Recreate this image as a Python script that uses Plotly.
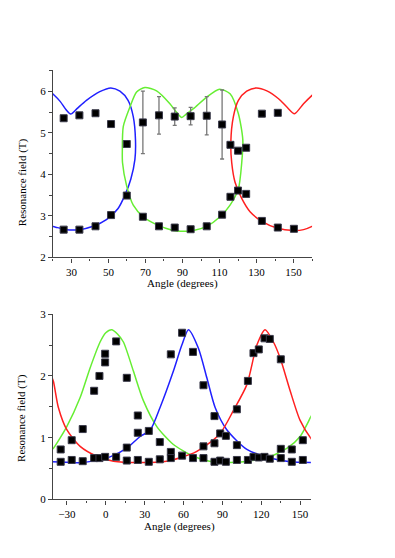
import plotly.graph_objects as go

# ---- top panel: measured points (degrees, tesla) ----
top_x = [25.8, 34.3, 43.0, 51.4, 59.9, 68.6, 77.3, 85.8, 94.4, 103.1, 111.4, 115.9, 120.0, 124.4, 132.9, 141.5]
top_hi = [5.35, 5.42, 5.47, 5.21, 4.73, 5.25, 5.42, 5.39, 5.40, 5.41, 5.20, 4.71, 4.57, 4.64, 5.46, 5.48]
top_hi_err = [0, 0, 0, 0, 0, 0.75, 0.45, 0.21, 0.21, 0.46, 0.83, 0, 0, 0, 0, 0]

top_lo_x = [25.8, 34.3, 43.0, 51.4, 59.9, 68.6, 77.3, 85.8, 94.4, 103.1, 111.4, 115.9, 120.0, 124.4, 132.9, 141.5, 150.2]
top_lo = [2.67, 2.67, 2.75, 3.02, 3.49, 2.98, 2.75, 2.72, 2.68, 2.75, 3.03, 3.46, 3.61, 3.53, 2.88, 2.72, 2.69]

# fitted curves, top panel
blue_top_x = [18, 20.6, 24, 27, 29.6, 33, 38.1, 45.3, 51.3, 56.2, 60.6, 63.4, 64.6, 64.3, 62.1, 58.9, 55.2, 48.9, 41.7, 34.5, 27.3, 21.5, 18]
blue_top_y = [6.0, 5.91, 5.75, 5.56, 5.45, 5.58, 5.78, 5.99, 6.08, 6.0, 5.78, 5.39, 4.83, 4.36, 3.89, 3.50, 3.18, 2.91, 2.75, 2.67, 2.67, 2.73, 2.77]

green_top_x = [57.5, 58, 61.6, 65.2, 69.7, 76, 83.2, 87, 89.6, 92, 95.9, 103.1, 110, 115.7, 120.2, 122.6, 122, 120.2, 115.7, 110.3, 103.1, 95.9, 89, 85, 76, 68.8, 63.4, 59.8, 57.6, 57.5]
green_top_y = [4.6, 5.15, 5.62, 5.98, 6.09, 6.01, 5.70, 5.48, 5.37, 5.45, 5.58, 5.86, 6.05, 5.94, 5.46, 4.83, 4.28, 3.65, 3.26, 2.98, 2.75, 2.65, 2.63, 2.65, 2.79, 2.98, 3.26, 3.73, 4.28, 4.6]

red_top_x = [162, 160, 155.4, 150, 141, 132.9, 126.5, 122, 118.4, 116.6, 116.1, 117.5, 120.2, 124.7, 129.8, 135.6, 141.9, 146.4, 150.5, 155.4, 160, 162]
red_top_y = [2.80, 2.75, 2.67, 2.65, 2.71, 2.87, 3.10, 3.42, 3.81, 4.28, 4.76, 5.39, 5.78, 6.0, 6.08, 6.01, 5.82, 5.62, 5.46, 5.70, 5.90, 5.98]

# ---- bottom panel: measured points ----
bot_x = [-34.8, -34.8, -26.3, -26.3, -17.8, -17.8, -9.0, -9.0, -4.9, -4.9, -0.5, -0.5, -0.5,
         8.0, 8.0, 16.2, 16.2, 16.2, 24.7, 24.7, 24.7, 33.2, 33.2, 41.7, 41.7,
         50.2, 50.2, 50.2, 58.9, 58.9, 67.3, 67.3, 75.4, 75.4, 75.4, 83.9, 83.9, 83.9,
         88.3, 88.3, 92.7, 92.7, 101.2, 101.2, 101.2, 109.7, 109.7, 114.0, 114.0,
         118.1, 118.1, 122.5, 122.5, 126.6, 126.6, 135.1, 135.1, 135.1, 143.6, 143.6, 152.1, 152.1]
bot_y = [0.81, 0.61, 0.96, 0.64, 1.14, 0.62, 1.76, 0.67, 2.00, 0.67, 2.22, 2.36, 0.69,
         2.56, 0.69, 1.97, 0.84, 0.63, 1.36, 1.08, 0.64, 1.11, 0.61, 0.93, 0.65,
         2.35, 0.77, 0.67, 2.70, 0.71, 2.39, 0.67, 1.85, 0.86, 0.67, 1.35, 0.91, 0.61,
         1.07, 0.63, 1.03, 0.61, 1.46, 0.88, 0.64, 1.92, 0.64, 2.37, 0.69,
         2.43, 0.68, 2.61, 0.69, 2.60, 0.66, 2.27, 0.82, 0.67, 0.81, 0.61, 0.96, 0.64]

# fitted curves, bottom panel
green_bot_x = [-42, -40.4, -30.1, -19.8, -12.1, -4.4, 0, 4.5, 9, 13.6, 21.3, 29, 39.4, 52.2, 67.6, 80, 95, 110, 125, 140, 150, 158.3, 160]
green_bot_y = [0.80, 0.83, 1.18, 1.65, 2.13, 2.55, 2.70, 2.75, 2.68, 2.55, 2.08, 1.60, 1.18, 0.89, 0.70, 0.62, 0.60, 0.62, 0.68, 0.83, 1.02, 1.34, 1.40]

blue_bot_x = [-42, -17.3, 3.3, 16.2, 26.5, 34.2, 41.9, 52.2, 58.7, 63.8, 71.5, 78, 84.4, 93.4, 108.9, 126.9, 142.3, 160]
blue_bot_y = [0.61, 0.60, 0.69, 0.83, 1.02, 1.12, 1.49, 2.08, 2.50, 2.75, 2.45, 1.97, 1.49, 1.13, 0.81, 0.67, 0.61, 0.60]

red_bot_x = [-42, -40.4, -36.6, -30.1, -19.8, -6.9, 5.9, 26.5, 47.1, 67.6, 72.8, 88.3, 98.5, 108.9, 116.6, 123, 129.4, 134.6, 142.3, 150, 158.3, 160]
red_bot_y = [2.0, 1.91, 1.49, 1.13, 0.86, 0.70, 0.62, 0.60, 0.62, 0.75, 0.81, 1.07, 1.44, 1.86, 2.50, 2.75, 2.55, 2.29, 1.76, 1.28, 0.99, 0.95]

BLUE, GREEN, RED = '#2020ff', '#66ee33', '#ff2020'
FONT = 'Liberation Serif'

fig = go.Figure()

def curve(x, y, color, xa, ya):
    fig.add_trace(go.Scatter(x=x, y=y, mode='lines', line=dict(color=color, width=1.5, shape='spline', smoothing=0.7),
                             xaxis=xa, yaxis=ya, hoverinfo='skip'))

square = dict(symbol='square', size=7, color='black', line=dict(width=1, color='#3a3a4a'))

curve(blue_top_x, blue_top_y, BLUE, 'x', 'y')
curve(green_top_x, green_top_y, GREEN, 'x', 'y')
curve(red_top_x, red_top_y, RED, 'x', 'y')

fig.add_trace(go.Scatter(x=top_x, y=top_hi, mode='markers', xaxis='x', yaxis='y', marker=square,
                         error_y=dict(type='data', array=top_hi_err, visible=True, color='#777', thickness=1.3, width=2)))
fig.add_trace(go.Scatter(x=top_lo_x, y=top_lo, mode='markers', xaxis='x', yaxis='y', marker=square))

curve(green_bot_x, green_bot_y, GREEN, 'x2', 'y2')
curve(blue_bot_x, blue_bot_y, BLUE, 'x2', 'y2')
curve(red_bot_x, red_bot_y, RED, 'x2', 'y2')

fig.add_trace(go.Scatter(x=bot_x, y=bot_y, mode='markers', xaxis='x2', yaxis='y2', marker=square))

ax = dict(showgrid=False, zeroline=False, showline=True, linecolor='#444', linewidth=1.2,
          ticks='outside', ticklen=4, tickwidth=1, tickcolor='#444',
          tickfont=dict(family=FONT, size=11, color='black'),
          minor=dict(ticks='outside', ticklen=2.5, tickwidth=1, tickcolor='#444'))

title_font = dict(family=FONT, size=11, color='black')


def label(text, px, py, angle=0):
    # pixel position of the label centre -> paper coordinates (margins are zero)
    return dict(text=text, x=px / 395, y=1 - py / 558, xref='paper', yref='paper', showarrow=False,
                xanchor='center', yanchor='middle', textangle=angle, font=title_font)


fig.update_layout(
    width=395, height=558, showlegend=False,
    paper_bgcolor='white', plot_bgcolor='white',
    margin=dict(l=0, r=0, t=0, b=0),
    xaxis=dict(ax, domain=[0.134, 0.790], range=[20, 160], tick0=30, dtick=20, minor=dict(ax['minor'], dtick=10), anchor='y'),
    yaxis=dict(ax, domain=[0.5394, 0.8835], range=[2, 6.52], tick0=2, dtick=1, minor=dict(ax['minor'], dtick=0.5), anchor='x'),
    xaxis2=dict(ax, domain=[0.134, 0.787], range=[-40.8, 158.3], tick0=-30, dtick=30, minor=dict(ax['minor'], dtick=15), anchor='y2'),
    yaxis2=dict(ax, domain=[0.0962, 0.4355], range=[0, 3], tick0=0, dtick=1, minor=dict(ax['minor'], dtick=0.5), anchor='x2'),
    annotations=[
        label('Angle (degrees)', 182, 284),
        label('Resonance field (T)', 22, 180, -90),
        label('Angle (degrees)', 179, 532),
        label('Resonance field (T)', 22, 421, -90),
    ],
)

# the page body has a default 8px margin and a text line box; drop both so the page is exactly the figure
reset = ("document.documentElement.style.margin='0';document.body.style.margin='0';"
         "document.body.style.padding='0';document.body.style.fontSize='0';document.body.style.lineHeight='0';"
         "document.documentElement.style.overflow='hidden';document.body.style.overflow='hidden';")
fig.write_html('out.html', config={'displayModeBar': False}, post_script=reset)
